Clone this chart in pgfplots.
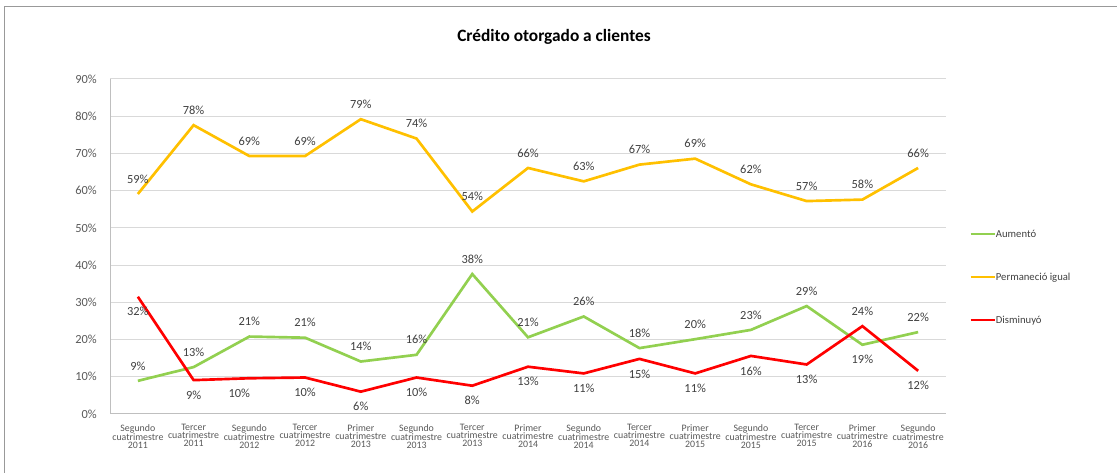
\documentclass[border=0pt]{standalone}
\usepackage{fontspec}
\setmainfont{Carlito}
\usepackage{pgfplots}
\pgfplotsset{compat=1.18}
\usepackage{pgfplotstable}
\definecolor{cgreen}{HTML}{92D050}
\definecolor{cyellow}{HTML}{FFC000}
\definecolor{cred}{HTML}{FF0000}
\definecolor{gridgray}{HTML}{D9D9D9}
\definecolor{axisgray}{HTML}{BFBFBF}
\definecolor{txtgray}{HTML}{404040}
\definecolor{tickgray}{HTML}{595959}

\pgfplotstableread{
x y lbl dy dx
0 8.9 9 11.25 0
1 12.6 13 11.25 0
2 20.8 21 11.25 0
3 20.5 21 11.25 0
4 14.1 14 11.25 0
5 15.9 16 11.25 0
6 37.6 38 11.25 0
7 20.6 21 11.25 0
8 26.2 26 11.25 0
9 17.7 18 11.25 0
10 20.1 20 11.25 0
11 22.6 23 11.25 0
12 29.0 29 11.25 0
13 18.6 19 -11.25 0
14 22.0 22 11.25 0
}\aum

\pgfplotstableread{
x y lbl dy dx
0 59.1 59 11.25 0
1 77.6 78 11.25 0
2 69.3 69 11.25 0
3 69.3 69 11.25 0
4 79.2 79 11.25 0
5 74.0 74 11.25 0
6 54.4 54 11.25 0
7 66.1 66 11.25 0
8 62.5 63 11.25 0
9 67.0 67 11.25 0
10 68.6 69 11.25 0
11 61.7 62 11.25 0
12 57.2 57 11.25 0
13 57.6 58 11.25 0
14 66.1 66 11.25 0
}\perm

\pgfplotstableread{
x y lbl dy dx
0 31.5 32 -11.25 0
1 9.1 9 -11.25 0
2 9.6 10 -11.25 -7.5
3 9.8 10 -11.25 0
4 6.0 6 -11.25 0
5 9.8 10 -11.25 0
6 7.6 8 -11.25 0
7 12.7 13 -11.25 0
8 10.9 11 -11.25 0
9 14.8 15 -11.25 0
10 10.9 11 -11.25 0
11 15.6 16 -11.25 0
12 13.3 13 -11.25 0
13 23.6 24 11.25 0
14 11.6 12 -11.25 0
}\dis

\begin{document}
\begin{tikzpicture}
\path[use as bounding box] (0,0) rectangle (837.75pt,354.75pt);
\draw[gray!80, line width=0.75pt] (3pt,0) -- (3pt,349.5pt) -- (837.75pt,349.5pt);
\node[font=\bfseries\fontsize{13pt}{15pt}\selectfont, text=black] at (415.5pt,327pt) {Crédito otorgado a clientes};
\begin{axis}[
  scale only axis, width=627pt, height=251.25pt,
  at={(82.5pt,44.25pt)}, anchor=south west,
  xmin=-0.5, xmax=14.5, ymin=0, ymax=90,
  xtick={0,...,14},
  xticklabels={{Segundo\\cuatrimestre\\2011},{Tercer\\cuatrimestre\\2011},{Segundo\\cuatrimestre\\2012},{Tercer\\cuatrimestre\\2012},{Primer\\cuatrimestre\\2013},{Segundo\\cuatrimestre\\2013},{Tercer\\cuatrimestre\\2013},{Primer\\cuatrimestre\\2014},{Segundo\\cuatrimestre\\2014},{Tercer\\cuatrimestre\\2014},{Primer\\cuatrimestre\\2015},{Segundo\\cuatrimestre\\2015},{Tercer\\cuatrimestre\\2015},{Primer\\cuatrimestre\\2016},{Segundo\\cuatrimestre\\2016}},
  xticklabel style={align=center, font=\fontsize{7.4pt}{6pt}\selectfont, text=tickgray, inner sep=0pt, yshift=-7.5pt},
  ytick={0,10,...,90},
  yticklabel={\pgfmathprintnumber{\tick}\%},
  yticklabel style={font=\fontsize{9.3pt}{10pt}\selectfont, text=tickgray, inner sep=0pt, xshift=-9.75pt},
  /pgf/number format/assume math mode=true,
  ymajorgrids, grid style={gridgray, line width=0.75pt},
  axis x line*=bottom, axis y line*=left,
  axis line style={axisgray, line width=0.75pt},
  tick style={draw=none},
  clip=false,
  legend style={at={(1.0275,0.553)}, anchor=north west, draw=none, fill=none, inner sep=0pt,
    row sep=24.75pt, font=\fontsize{8pt}{9pt}\selectfont, text=txtgray,
    nodes={inner sep=0pt, text height=6pt, text depth=1.5pt}},
  legend cell align=left,
  legend image code/.code={\draw[#1] (0pt,0pt) -- (18pt,0pt);},
  point meta=explicit,
  nodes near coords={\pgfmathprintnumber{\pgfplotspointmeta}\%},
  visualization depends on={\thisrow{dy} \as \dy},
  visualization depends on={\thisrow{dx} \as \dx},
  every node near coord/.append style={anchor=center, inner sep=0pt, yshift=\dy*1pt, xshift=\dx*1pt, font=\fontsize{9.3pt}{10pt}\selectfont, text=txtgray},
]
\addplot[cgreen, line width=2pt, mark=none] table[x=x, y=y, meta=lbl] {\aum};
\addlegendentry{Aumentó}
\addplot[cyellow, line width=2pt, mark=none] table[x=x, y=y, meta=lbl] {\perm};
\addlegendentry{Permaneció igual}
\addplot[cred, line width=2pt, mark=none] table[x=x, y=y, meta=lbl] {\dis};
\addlegendentry{Disminuyó}
\end{axis}
\end{tikzpicture}
\end{document}
